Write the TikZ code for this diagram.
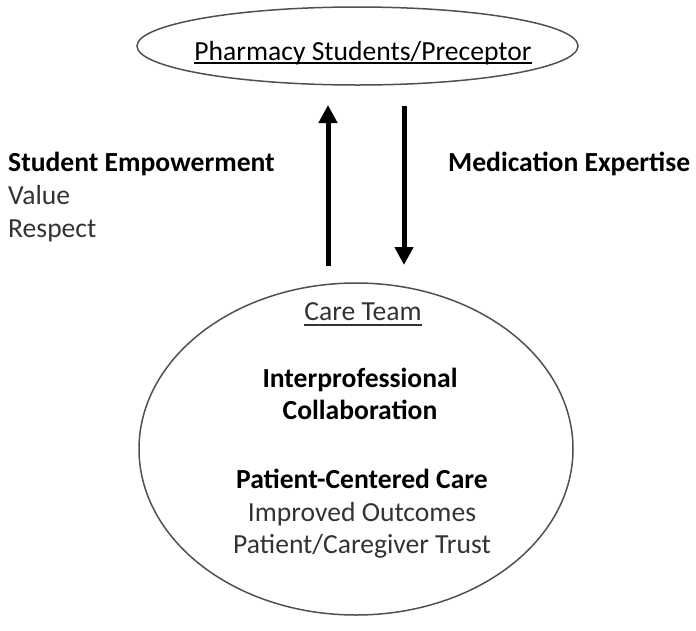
\documentclass[tikz,border=0pt]{standalone}
\usepackage{fontspec}
\setmainfont{Carlito}
\usetikzlibrary{arrows.meta,shapes.geometric}
\definecolor{txtgray}{HTML}{333333}
\definecolor{edgegray}{HTML}{505050}
\newcommand{\ulin}[2]{\setbox0=\hbox{#2}\rlap{\rule[-#1]{\wd0}{1.8pt}}\box0}
\tikzset{
  oval/.style={draw=edgegray, line width=1.5pt, ellipse, inner sep=0pt},
  lbl/.style={inner sep=0pt, anchor=base, font=\fontsize{27.6}{33}\selectfont, text=txtgray},
  bl/.style={lbl, text=black, font=\fontsize{27.6}{33}\selectfont\bfseries},
  flow/.style={line width=5pt, -{Triangle[width=18pt,length=18pt]}},
}
\begin{document}
\begin{tikzpicture}[x=1pt,y=-1pt]
\useasboundingbox (0,0) rectangle (696,630);
\node[oval, minimum width=441pt, minimum height=78pt] (top) at (357.5,46) {};
\node[lbl, text=black] (toptxt) at (363,60) {\ulin{3.8pt}{Pharmacy Students/Preceptor}};
\node[oval, minimum width=434pt, minimum height=332pt] (team) at (356,449) {};
\node[lbl] (teamtxt) at (363,320) {\ulin{6pt}{Care Team}};
\node[bl] (ipc1) at (360,387) {Interprofessional};
\node[bl] (ipc2) at (360,419) {Collaboration};
\node[bl] (pcc1) at (362,488) {Patient-Centered Care};
\node[lbl] (pcc2) at (362,521) {Improved Outcomes};
\node[lbl] (pcc3) at (362,553) {Patient/Caregiver Trust};
\node[bl, anchor=base west] (emp1) at (8,171) {Student Empowerment};
\node[lbl, anchor=base west] (emp2) at (8,204) {Value};
\node[lbl, anchor=base west] (emp3) at (8,237) {Respect};
\node[bl, anchor=base west] (med) at (448,171) {Medication Expertise};
\coordinate (upS) at (328,266);
\coordinate (upE) at (328,105);
\coordinate (dnS) at (404,106);
\coordinate (dnE) at (404,265);
\draw[flow] (upS) -- (upE);
\draw[flow] (dnS) -- (dnE);
\end{tikzpicture}
\end{document}
